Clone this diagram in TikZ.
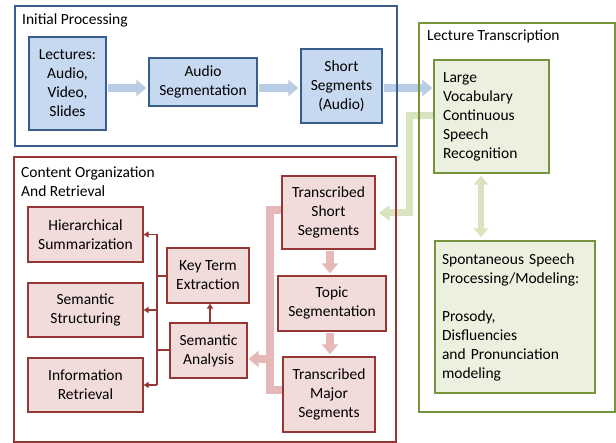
\documentclass[tikz,border=0pt]{standalone}
\usepackage{fontspec}
\setmainfont{Carlito}
\usetikzlibrary{arrows.meta}

\definecolor{bluefill}{HTML}{C6D9F1}
\definecolor{blueline}{HTML}{385D8A}
\definecolor{bluearrow}{HTML}{B9CDE5}
\definecolor{greenfill}{HTML}{EBF1DE}
\definecolor{greenline}{HTML}{77933C}
\definecolor{greenarrow}{HTML}{D7E4BD}
\definecolor{redfill}{HTML}{F2DCDB}
\definecolor{redline}{HTML}{953735}
\definecolor{redarrow}{HTML}{E6B9B8}

\tikzset{
  txt/.style={font=\fontsize{15.5}{19}\selectfont},
  box/.style={txt, draw, line width=1.3pt, align=center, inner sep=2pt},
  bluebox/.style={box, draw=blueline, fill=bluefill},
  greenbox/.style={box, draw=greenline, fill=greenfill, align=left},
  redbox/.style={box, draw=redline, fill=redfill},
  frame/.style={line width=2pt},
  title/.style={txt, inner sep=0pt, align=left},
  fat/.style={line width=8pt, -{Triangle[width=16pt,length=10pt]}},
  fatboth/.style={line width=6pt, {Triangle[width=14pt,length=9pt]}-{Triangle[width=14pt,length=9pt]}},
  bluefat/.style={fat, draw=bluearrow},
  greenfat/.style={line width=7pt, -{Triangle[width=15pt,length=11pt]}, draw=greenarrow},
  redfat/.style={fat, draw=redarrow},
  thin/.style={draw=redline, line width=1.3pt},
  thinarrow/.style={thin, -{Triangle[width=6pt,length=5pt]}}
}

\begin{document}
\begin{tikzpicture}[x=1pt, y=-1pt]
\useasboundingbox (0,0) rectangle (616,443);

\node[title, anchor=west] (tinit) at (22,20) {Initial Processing};
\node[title, anchor=west] (tlt) at (427,36) {Lecture Transcription};
\node[title, anchor=west] (tcor) at (21,181.5) {Content Organization\\And Retrieval};

% initial processing
\node[bluebox, minimum width=77pt, minimum height=93pt] (lect) at (67.5,83.5) {Lectures:\\Audio,\\Video,\\Slides};
\node[bluebox, minimum width=108pt, minimum height=48pt] (aseg) at (203,82) {Audio\\Segmentation};
\node[bluebox, minimum width=81pt, minimum height=74pt] (sseg) at (341.5,86) {Short\\Segments\\(Audio)};

% lecture transcription
\node[greenbox, text width=97pt, inner xsep=9pt, minimum height=113pt] (lvcsr) at (491.5,116.5)
  {Large\\Vocabulary\\Continuous\\Speech\\Recognition};
\node[greenbox, text width=146pt, inner xsep=7pt, minimum height=152pt] (spont) at (515,317)
  {Spontaneous Speech\\Processing/Modeling:\\[19pt]Prosody,\\Disfluencies\\and Pronunciation\\modeling};

% content organization
\node[redbox, minimum width=93pt, minimum height=73pt] (tss) at (328.5,212.5) {Transcribed\\Short\\Segments};
\node[redbox, minimum width=108pt, minimum height=55pt] (topic) at (332,303.5) {Topic\\Segmentation};
\node[redbox, minimum width=92pt, minimum height=75pt] (tms) at (329,394.5) {Transcribed\\Major\\Segments};
\node[redbox, minimum width=115pt, minimum height=55pt] (hs) at (85.5,234.5) {Hierarchical\\Summarization};
\node[redbox, minimum width=115pt, minimum height=54pt] (ss) at (85.5,310) {Semantic\\Structuring};
\node[redbox, minimum width=115pt, minimum height=54pt] (ir) at (85.5,385) {Information\\Retrieval};
\node[redbox, minimum width=82pt, minimum height=55pt] (kte) at (208,275.5) {Key Term\\Extraction};
\node[redbox, minimum width=77pt, minimum height=55pt] (sa) at (208.5,350.5) {Semantic\\Analysis};

% broad flow arrows
\draw[bluefat, shorten <=1pt, shorten >=2pt] (lect.east |- 0,88) -- (aseg.west |- 0,88);
\draw[bluefat, shorten <=1pt, shorten >=2pt] (aseg.east |- 0,88) -- (sseg.west |- 0,88);
\draw[bluefat, shorten <=1pt, shorten >=1pt] (sseg.east |- 0,88) -- (lvcsr.west |- 0,88);

\coordinate (gA) at (409,116);
\coordinate (gB) at (409,213);
\draw[greenfat, line join=miter, shorten >=3pt] (lvcsr.west |- gA) -- (gA) -- (gB) -- (tss.east |- gB);
\draw[fatboth, draw=greenarrow, shorten <=2pt, shorten >=3pt] (lvcsr.south -| 481,0) -- (spont.north -| 481,0);

\draw[redfat, shorten <=1pt, shorten >=2pt] (tss.south -| 330,0) -- (topic.north -| 330,0);
\draw[redfat, shorten <=1pt, shorten >=2pt] (topic.south -| 330,0) -- (tms.north -| 330,0);

\coordinate (rA) at (270,210);
\coordinate (rB) at (270,390);
\coordinate (rC) at (270,359);
\draw[draw=redarrow, line width=8pt, line join=miter] (tss.west |- rA) -- (rA) -- (rB) -- (tms.west |- rB);
\draw[redfat, shorten >=1pt] (rC) -- (sa.east |- rC);

% thin connectors
\coordinate (vT) at (157,234.5);
\coordinate (vB) at (157,385);
\draw[thin] (vT) -- (vB);
\draw[thinarrow] (vT) -- (hs.east |- vT);
\draw[thinarrow] (157,310) -- (ss.east |- 0,310);
\draw[thinarrow] (vB) -- (ir.east |- vB);
\draw[thin] (kte.west |- 0,276) -- (157,276);
\draw[thin] (sa.west |- 0,350) -- (157,350);
\draw[thinarrow] (sa.north -| 210,0) -- (kte.south -| 210,0);

% group frames, on top of the arrows that cross them
\draw[frame, draw=blueline] (15,6) rectangle (397,146);
\draw[frame, draw=greenline] (419,23) rectangle (615,412);
\draw[frame, draw=redline] (14,157) rectangle (396,442);
\end{tikzpicture}
\end{document}
